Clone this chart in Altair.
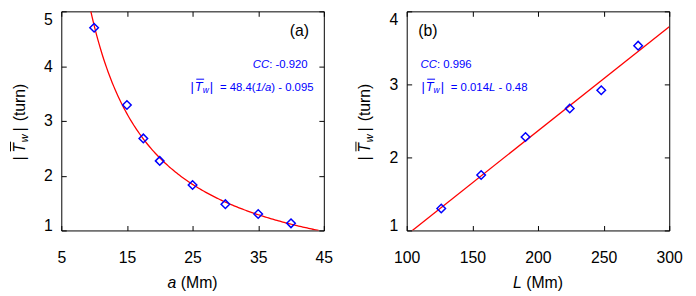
import altair as alt
import numpy as np
import pandas as pd

FONT = "Liberation Sans"
BLUE = "#0000ff"
RED = "#ff0000"

# ---------------- data ----------------
# panel (a): twist vs footpoint separation a
A_MM = [10, 15, 17.5, 20, 25, 30, 35, 40]
TW_A = [4.70, 3.29, 2.68, 2.27, 1.83, 1.48, 1.30, 1.13]
FIT_A_SLOPE = 48.4      # printed fit |Tw| = 48.4(1/a) - 0.095
FIT_A_OFFSET = -0.095
FIT_A_RANGE = [9.5, 44.2]
X_TICKS_A = [5, 15, 25, 35, 45]
Y_TICKS_A = [1, 2, 3, 4, 5]

# panel (b): twist vs loop length L
L_MM = [126.3, 156.7, 190.5, 224.2, 248.2, 276.3]
TW_L = [1.30, 1.76, 2.28, 2.67, 2.92, 3.53]
FIT_L_X = [104.3, 300]
FIT_L_Y = [1.0, 3.79]
X_TICKS_B = [100, 150, 200, 250, 300]
Y_TICKS_B = [1, 2, 3, 4]

W, H = 266, 222
SY = H / 226.0

# Arial / Liberation Sans advance widths (per 1000 em)
ADV = {' ': 278, '(': 333, ')': 333, '-': 333, '.': 278, '/': 278, ':': 278,
       '=': 584, '|': 260, 'C': 722, 'L': 556, 'M': 833, 'T': 611, 'a': 556,
       'm': 833, 'n': 556, 'r': 333, 't': 278, 'u': 556, 'w': 722}
for _d in "0123456789":
    ADV[_d] = 556


def tw(s, size):
    return sum(ADV.get(c, 556) for c in s) * size / 1000.0


ONE = pd.DataFrame({"k": [0]})


def txt(s, x, y, size=16, italic=False, color="black", angle=0, align="left"):
    kw = dict(text=s, fontSize=size, font=FONT, color=color, align=align,
              baseline="alphabetic")
    if italic:
        kw["fontStyle"] = "italic"
    if angle:
        kw["angle"] = angle
    return alt.Chart(ONE).mark_text(**kw).encode(x=alt.value(x), y=alt.value(y))


def rule(x1, y1, x2, y2, color, w=1.0):
    return alt.Chart(ONE).mark_rule(color=color, strokeWidth=w).encode(
        x=alt.value(x1), x2=alt.value(x2), y=alt.value(y1), y2=alt.value(y2))


def tw_symbol(x0, y0, color, big, small, vertical=False):
    """|T_w| with overline; returns layers and advance length."""
    layers = []
    uT = 0.26 * big + (3.5 if vertical else 0.9)
    uw = uT + 0.611 * big + (1.0 if vertical else 0.0)
    ub = uw + 0.722 * small + (3.0 if vertical else 1.0)
    cap = 0.716 * big
    if vertical:
        layers.append(txt("|", x0, y0, big, False, color, 270))
        layers.append(txt("T", x0, y0 - uT, big, True, color, 270))
        layers.append(txt("w", x0 + 3, y0 - uw, small, True, color, 270))
        layers.append(txt("|", x0, y0 - ub, big, False, color, 270))
        layers.append(rule(x0 - cap - 3, y0 - uT - 1.5, x0 - cap - 3, y0 - uT - 0.611 * big - 1.5, color))
    else:
        layers.append(txt("|", x0, y0, big, False, color))
        layers.append(txt("T", x0 + uT, y0, big, True, color))
        layers.append(txt("w", x0 + uw, y0 + 2.5, small, True, color))
        layers.append(txt("|", x0 + ub, y0, big, False, color))
        layers.append(rule(x0 + uT + 1.5, y0 - cap - 2.5, x0 + uT + 0.611 * big + 1.5, y0 - cap - 2.5, color))
    return layers, ub + 0.26 * big


def run(pieces, x0, y0, color, size):
    """Sequential text pieces; leading spaces become advances (SVG trims them)."""
    out = []
    x = x0
    for s, it in pieces:
        lead = len(s) - len(s.lstrip(" "))
        x += tw(" " * lead, size)
        core = s.lstrip(" ")
        out.append(txt(core, x, y0, size, it, color))
        x += tw(core, size)
    return out


def panel(pts, fit, xdom, xt, ydom, yt, xname, label, label_x, label_align,
          cc_pieces, cc_x, eq_pieces, eq_x):
    xs = alt.Scale(domain=xdom, nice=False, zero=False)
    ys = alt.Scale(domain=ydom, nice=False, zero=False)
    ymax, ymin = ydom[1], ydom[0]
    line = alt.Chart(fit).mark_line(color=RED, strokeWidth=1.3, clip=True).encode(
        x=alt.X("x:Q", scale=xs, axis=alt.Axis(
            orient="top", values=xt, labels=False, title=None, grid=False,
            domain=False, tickSize=5, offset=-5, tickColor="black", tickWidth=1)),
        y=alt.Y("y:Q", scale=ys, axis=alt.Axis(
            orient="right", values=yt, labels=False, title=None, grid=False,
            domain=False, tickSize=5, offset=-5, tickColor="black", tickWidth=1)),
    )
    dots = alt.Chart(pts).mark_point(
        shape="diamond", filled=False, size=75, strokeWidth=1.5, color=BLUE,
        opacity=1).encode(
        x=alt.X("x:Q", scale=xs, axis=alt.Axis(
            orient="bottom", values=xt, title=None, grid=False, domain=False,
            tickSize=5, offset=-5, labelPadding=19, labelFont=FONT,
            labelFontSize=16, labelColor="black", tickColor="black",
            labelOverlap=False, labelFlush=False, format="d")),
        y=alt.Y("y:Q", scale=ys, axis=alt.Axis(
            orient="left", values=yt, title=None, grid=False, domain=False,
            tickSize=5, offset=-5, labelPadding=9, labelFont=FONT,
            labelFontSize=16, labelColor="black", tickColor="black",
            labelOverlap=False, labelFlush=False, format="d",
            labelOffset={"condition": [
                {"test": f"datum.value == {ymax}", "value": 8},
                {"test": f"datum.value == {ymin}", "value": -5}],
                "value": 0})),
    )
    layers = [line, dots]
    # y title  |T_w|  (turn)
    bx = -37
    y0 = H / 2 + 40
    sym, ln = tw_symbol(bx, y0, "black", 16, 11, vertical=True)
    layers += sym
    layers.append(txt("(turn)", bx, y0 - ln - 6, 16, False, "black", 270))
    # x title
    layers += run([(xname, True), (" (Mm)", False)],
                  W / 2 - tw(xname + " (Mm)", 16) / 2, 280, "black", 16)
    # panel label
    layers.append(txt(label, label_x, 25 * SY, 16, False, "black", 0, label_align))
    # annotation
    layers += run(cc_pieces, cc_x, 58.3 * SY, BLUE, 11.5)
    sym, ln = tw_symbol(eq_x, 82 * SY, BLUE, 13, 8.5)
    layers += sym
    layers += run(eq_pieces, eq_x + 29.7, 82 * SY, BLUE, 11.5)
    return alt.layer(*layers).resolve_axis(x="independent", y="independent").properties(
        width=W, height=H)


pts_a = pd.DataFrame({"x": A_MM, "y": TW_A})
a_grid = np.linspace(FIT_A_RANGE[0], FIT_A_RANGE[1], 160)
fit_a = pd.DataFrame({"x": a_grid, "y": FIT_A_SLOPE / a_grid + FIT_A_OFFSET})
pts_b = pd.DataFrame({"x": L_MM, "y": TW_L})
fit_b = pd.DataFrame({"x": FIT_L_X, "y": FIT_L_Y})

pa = panel(pts_a, fit_a, [5, 45], X_TICKS_A, [1, 5], Y_TICKS_A, "a", "(a)", 251, "right",
           [("CC", True), (": -0.920", False)], 194,
           [("= 48.4(", False), ("1/a", True), (") - 0.095", False)], 131)
pb = panel(pts_b, fit_b, [100, 300], X_TICKS_B, [1, 4], Y_TICKS_B, "L", "(b)", 11.7, "left",
           [("CC", True), (": 0.996", False)], 14,
           [("= 0.014", False), ("L", True), (" - 0.48", False)], 15)

chart = alt.hconcat(pa, pb, spacing=84, bounds="flush").properties(
    padding={"left": 1, "top": 0.5, "right": 5, "bottom": 2},
    background="white",
).configure_view(stroke="black", strokeWidth=1)

chart.save("out.html", embed_options={"renderer": "svg", "actions": False})
